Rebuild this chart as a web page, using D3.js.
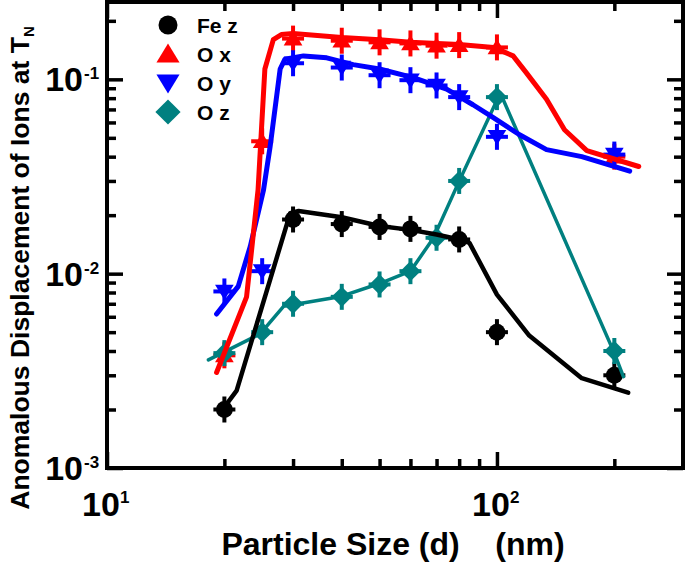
<!doctype html>
<html lang="en">
<head>
<meta charset="utf-8">
<title>anomalous displacement</title>
<style>
  body { margin: 0; background: #fff; }
  svg text { font-family: "Liberation Sans", Arial, sans-serif; font-weight: bold; fill: #000; }
</style>
</head>
<body>
<svg id="chart" width="685" height="564"></svg>
<script src="https://cdn.jsdelivr.net/npm/d3@7/dist/d3.min.js"></script>
<script>
// measured points (particle size in nm, displacement)
const feX = [20, 30, 40, 50, 60, 80, 100, 200];
const feY = [0.002, 0.019, 0.018, 0.0174, 0.017, 0.015, 0.005, 0.003];
const oxX = [20, 25, 30, 40, 50, 60, 70, 80, 100, 200];
const oxY = [0.0038, 0.048, 0.162, 0.158, 0.155, 0.153, 0.149, 0.150, 0.146, 0.040];
const oyX = [20, 25, 30, 40, 50, 60, 70, 80, 100, 200];
const oyY = [0.0081, 0.0103, 0.121, 0.115, 0.105, 0.099, 0.093, 0.081, 0.0506, 0.041];
const ozX = [20, 25, 30, 40, 50, 60, 70, 80, 100, 200];
const ozY = [0.0039, 0.005, 0.007, 0.0076, 0.0088, 0.0103, 0.0153, 0.030, 0.081, 0.004];

// guide lines through the data
const fitFeX = [19.6, 21.5, 29.5, 31, 40, 50, 60, 70, 80, 85, 100, 121, 165, 217];
const fitFeY = [0.00195, 0.0025, 0.0205, 0.021, 0.0195, 0.0176, 0.0168, 0.0159, 0.0150, 0.0144, 0.0078, 0.0048, 0.0029, 0.00244];
const fitOxX = [19.1, 22.8, 24.4, 25.4, 26.7, 28, 30, 40, 50, 60, 80, 98, 110, 119, 134, 149, 170, 231];
const fitOxY = [0.0031, 0.0076, 0.027, 0.113, 0.16, 0.17, 0.172, 0.164, 0.16, 0.155, 0.151, 0.146, 0.132, 0.108, 0.079, 0.055, 0.043, 0.0356];
const fitOyX = [19.1, 21.7, 23.3, 25.2, 26.2, 27.8, 28.6, 31.9, 36.6, 42.8, 50, 61, 74.3, 86.8, 97.9, 114, 134, 165, 219];
const fitOyY = [0.0062, 0.0086, 0.0138, 0.027, 0.045, 0.113, 0.127, 0.132, 0.129, 0.119, 0.113, 0.102, 0.089, 0.074, 0.0635, 0.052, 0.0435, 0.040, 0.0337];
const fitOzX = [18.2, 24.7, 28.4, 39.5, 50, 60, 68.8, 79.7, 102, 200, 211];
const fitOzY = [0.0036, 0.0049, 0.0068, 0.0076, 0.0089, 0.0103, 0.0153, 0.0294, 0.085, 0.0039, 0.00295];

const seriesNames = ['Fe z', 'O x', 'O y', 'O z'];
const xMajorTicks = [10, 100];
const xMinorTicks = [20, 30, 40, 50, 60, 70, 80, 90, 200];
const yMajorTicks = [0.001, 0.01, 0.1];
const yMinorTicks = [0.002, 0.003, 0.004, 0.005, 0.006, 0.007, 0.008, 0.009,
                     0.02, 0.03, 0.04, 0.05, 0.06, 0.07, 0.08, 0.09, 0.2];

const plotLeft = 107, plotRight = 683, plotTop = 2, plotBottom = 468;

const x = d3.scaleLog().domain([10, 300]).range([plotLeft, plotRight]);
const y = d3.scaleLog().domain([0.001, 0.25]).range([plotBottom, plotTop]);

const svg = d3.select('#chart');

const series = [
  {name: seriesNames[0], xs: feX, ys: feY, fx: fitFeX, fy: fitFeY, color: '#000000', shape: 'circle', lw: 4.5},
  {name: seriesNames[1], xs: oxX, ys: oxY, fx: fitOxX, fy: fitOxY, color: '#ff0000', shape: 'up', lw: 5},
  {name: seriesNames[2], xs: oyX, ys: oyY, fx: fitOyX, fy: fitOyY, color: '#0000ff', shape: 'down', lw: 5},
  {name: seriesNames[3], xs: ozX, ys: ozY, fx: fitOzX, fy: fitOzY, color: '#008080', shape: 'diamond', lw: 3.5}
];

function shapePath(shape, s) {
  if (shape === 'circle') {
    return `M${-s},0A${s},${s} 0 1,0 ${s},0A${s},${s} 0 1,0 ${-s},0Z`;
  }
  if (shape === 'up') return `M0,${-s}L${s * 1.1},${s * 0.8}L${-s * 1.1},${s * 0.8}Z`;
  if (shape === 'down') return `M0,${s}L${s * 1.1},${-s * 0.8}L${-s * 1.1},${-s * 0.8}Z`;
  return `M0,${-s * 1.2}L${s * 1.2},0L0,${s * 1.2}L${-s * 1.2},0Z`;
}

// markers with error crosses
series.forEach(s => {
  const pts = s.xs.map((d, i) => ({d, v: s.ys[i]}));
  const g = svg.append('g').attr('class', 'markers');
  const m = g.selectAll('g').data(pts).enter().append('g')
      .attr('transform', p => `translate(${x(p.d)},${y(p.v)})`);
  m.append('line').attr('y1', -13).attr('y2', 13)
      .attr('stroke', s.color).attr('stroke-width', 4);
  m.append('line').attr('x1', -11).attr('x2', 11)
      .attr('stroke', s.color).attr('stroke-width', 4);
  m.append('path').attr('d', shapePath(s.shape, 8.5)).attr('fill', s.color);
});

// lines drawn on top, teal first, black last
const line = d3.line().x(p => x(p[0])).y(p => y(p[1]));
[3, 2, 1, 0].forEach(k => {
  const s = series[k];
  svg.append('path')
      .datum(s.fx.map((d, i) => [d, s.fy[i]]))
      .attr('d', line)
      .attr('fill', 'none')
      .attr('stroke', s.color)
      .attr('stroke-width', s.lw)
      .attr('stroke-linejoin', 'round')
      .attr('stroke-linecap', 'round');
});

// axes: ticks pointing inward on all four sides
function tickAxis(axisFn, scale, values, size, tx, ty) {
  svg.append('g')
      .attr('transform', `translate(${tx},${ty})`)
      .call(axisFn(scale).tickValues(values).tickSize(size).tickFormat(''))
      .call(g => g.select('.domain').remove())
      .call(g => g.selectAll('line').attr('stroke', '#000').attr('stroke-width', 3.5));
}
tickAxis(d3.axisBottom, x, xMajorTicks, -16, 0, plotBottom);
tickAxis(d3.axisBottom, x, xMinorTicks, -9, 0, plotBottom);
tickAxis(d3.axisTop, x, xMajorTicks, -16, 0, plotTop);
tickAxis(d3.axisTop, x, xMinorTicks, -9, 0, plotTop);
tickAxis(d3.axisLeft, y, yMajorTicks, -16, plotLeft, 0);
tickAxis(d3.axisLeft, y, yMinorTicks, -9, plotLeft, 0);
tickAxis(d3.axisRight, y, yMajorTicks, -16, plotRight, 0);
tickAxis(d3.axisRight, y, yMinorTicks, -9, plotRight, 0);

svg.append('rect')
    .attr('x', plotLeft).attr('y', plotTop)
    .attr('width', plotRight - plotLeft).attr('height', plotBottom - plotTop)
    .attr('fill', 'none').attr('stroke', '#000').attr('stroke-width', 4);

// tick labels as 10^n
xMajorTicks.forEach(t => {
  const px = x(t);
  svg.append('text').attr('x', px - 6).attr('y', 516)
      .attr('text-anchor', 'middle').style('font-size', '34px').text('10');
  svg.append('text').attr('x', px + 13).attr('y', 503)
      .style('font-size', '17px').text(Math.round(Math.log10(t)));
});
yMajorTicks.forEach(t => {
  const py = y(t);
  svg.append('text').attr('x', 83).attr('y', py + 12)
      .attr('text-anchor', 'end').style('font-size', '34px').text('10');
  svg.append('text').attr('x', 84).attr('y', py)
      .style('font-size', '17px').text('-' + Math.abs(Math.round(Math.log10(t))));
});

// axis titles
svg.append('text')
    .attr('x', 393).attr('y', 555)
    .attr('text-anchor', 'middle')
    .style('font-size', '32px')
    .style('white-space', 'pre')
    .text('Particle Size (d)    (nm)');

const yt = svg.append('text')
    .attr('transform', 'translate(29,268) rotate(-90)')
    .attr('text-anchor', 'middle')
    .style('font-size', '26.5px');
yt.append('tspan').text('Anomalous Displacement of Ions at T');
yt.append('tspan').attr('dy', 5).style('font-size', '15px').text('N');

// legend
const legend = svg.append('g').attr('transform', 'translate(168,25)');
series.forEach((s, i) => {
  const row = legend.append('g').attr('transform', `translate(0,${i * 29})`);
  row.append('path').attr('d', shapePath(s.shape, s.shape === 'circle' ? 9.5 : 10.5)).attr('fill', s.color);
  row.append('text').attr('x', 29).attr('y', 8).style('font-size', '21px').style('white-space', 'pre').text(s.name);
});
</script>
</body>
</html>
